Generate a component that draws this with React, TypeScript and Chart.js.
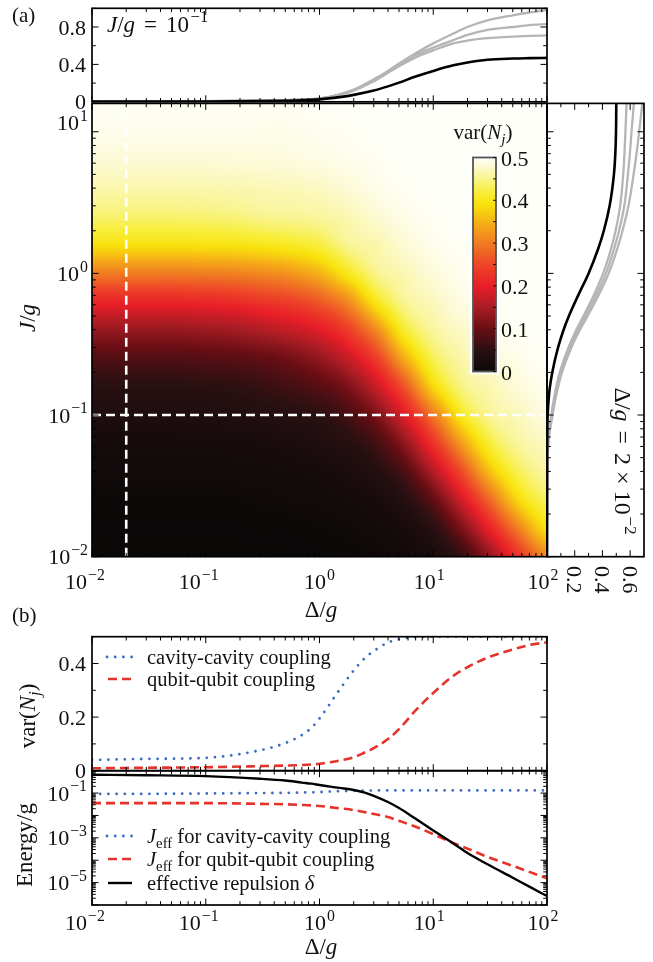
import React, { useEffect, useRef } from 'react';
import { Chart, registerables } from 'chart.js';

Chart.register(...registerables);

const W = 653;
const H = 962;
const SERIF = '"Liberation Serif", "Times New Roman", serif';
const INK = '#111';

// ---------------- data: (a) top, var vs Δ/g at J/g = 0.1 ----------------
const A_DELTA = [0.01, 0.03, 0.1, 0.3, 0.5, 0.7, 1, 1.5, 2, 3, 4, 5, 7, 10, 15, 20, 30, 50, 70, 100];
const A_BLACK = [0.002, 0.003, 0.004, 0.008, 0.012, 0.017, 0.026, 0.05, 0.074, 0.12, 0.165, 0.205, 0.27, 0.33, 0.39, 0.42, 0.45, 0.463, 0.467, 0.47];
const A_GRAY1 = [0.003, 0.004, 0.006, 0.012, 0.017, 0.024, 0.036, 0.08, 0.13, 0.24, 0.33, 0.41, 0.52, 0.625, 0.73, 0.8, 0.87, 0.925, 0.955, 0.98];
const A_GRAY2 = [0.003, 0.004, 0.006, 0.012, 0.017, 0.024, 0.035, 0.078, 0.125, 0.23, 0.32, 0.395, 0.5, 0.58, 0.66, 0.715, 0.77, 0.8, 0.82, 0.83];
const A_GRAY3 = [0.003, 0.004, 0.006, 0.012, 0.017, 0.024, 0.034, 0.075, 0.12, 0.22, 0.31, 0.38, 0.475, 0.55, 0.625, 0.655, 0.68, 0.697, 0.705, 0.71];

// ---------------- data: (a) side, var vs J/g at Δ/g = 0.02 ----------------
const S_J = [0.01, 0.05, 0.07, 0.1, 0.15, 0.2, 0.3, 0.4, 0.5, 0.7, 1, 1.5, 2, 3, 5, 7, 10, 15.85];
const S_BLACK = [0, 0.001, 0.002, 0.005, 0.018, 0.038, 0.08, 0.12, 0.158, 0.225, 0.3, 0.37, 0.41, 0.452, 0.483, 0.493, 0.498, 0.5];
const S_GRAY1 = [0, 0.003, 0.011, 0.031, 0.062, 0.092, 0.155, 0.212, 0.263, 0.338, 0.405, 0.463, 0.495, 0.528, 0.55, 0.559, 0.566, 0.574];
const S_GRAY2 = [0, 0.004, 0.013, 0.035, 0.068, 0.1, 0.165, 0.225, 0.278, 0.355, 0.425, 0.485, 0.52, 0.558, 0.584, 0.598, 0.61, 0.627];
const S_GRAY3 = [0, 0.005, 0.015, 0.04, 0.075, 0.108, 0.176, 0.238, 0.293, 0.372, 0.445, 0.508, 0.545, 0.588, 0.625, 0.646, 0.665, 0.688];

// ---------------- data: (a) map, var(N_j) over (Δ/g, J/g) ----------------
const HEAT_DELTA = [0.01, 0.0178, 0.0316, 0.0562, 0.1, 0.178, 0.316, 0.562, 1, 1.78, 3.16, 5.62, 10, 17.8, 31.6, 56.2, 100];
const HEAT_J = [15.85, 10, 6.31, 3.98, 2.51, 1.585, 1, 0.631, 0.398, 0.251, 0.1585, 0.1, 0.0631, 0.0398, 0.0251, 0.01585, 0.01];
const HEAT_VAR = [
  [0.497, 0.497, 0.497, 0.497, 0.497, 0.497, 0.497, 0.497, 0.498, 0.5, 0.5, 0.5, 0.5, 0.5, 0.5, 0.5, 0.5],
  [0.492, 0.492, 0.492, 0.492, 0.492, 0.492, 0.491, 0.491, 0.494, 0.496, 0.5, 0.5, 0.5, 0.5, 0.5, 0.5, 0.5],
  [0.481, 0.481, 0.481, 0.481, 0.481, 0.482, 0.483, 0.485, 0.488, 0.492, 0.495, 0.5, 0.5, 0.5, 0.5, 0.5, 0.5],
  [0.463, 0.463, 0.463, 0.463, 0.464, 0.465, 0.467, 0.469, 0.473, 0.481, 0.491, 0.496, 0.5, 0.5, 0.5, 0.5, 0.5],
  [0.438, 0.438, 0.438, 0.438, 0.44, 0.443, 0.45, 0.453, 0.457, 0.466, 0.479, 0.491, 0.497, 0.5, 0.5, 0.5, 0.5],
  [0.39, 0.39, 0.39, 0.39, 0.391, 0.393, 0.398, 0.406, 0.42, 0.452, 0.464, 0.48, 0.492, 0.498, 0.5, 0.5, 0.5],
  [0.3, 0.3, 0.3, 0.3, 0.302, 0.305, 0.313, 0.324, 0.35, 0.401, 0.45, 0.467, 0.483, 0.494, 0.5, 0.5, 0.5],
  [0.209, 0.209, 0.209, 0.209, 0.212, 0.217, 0.229, 0.242, 0.267, 0.314, 0.4, 0.453, 0.47, 0.488, 0.495, 0.5, 0.5],
  [0.136, 0.136, 0.136, 0.136, 0.14, 0.145, 0.157, 0.172, 0.194, 0.239, 0.314, 0.413, 0.457, 0.475, 0.491, 0.497, 0.5],
  [0.082, 0.082, 0.082, 0.082, 0.085, 0.088, 0.095, 0.109, 0.133, 0.174, 0.239, 0.345, 0.429, 0.462, 0.48, 0.492, 0.498],
  [0.048, 0.048, 0.048, 0.048, 0.05, 0.052, 0.06, 0.071, 0.085, 0.115, 0.174, 0.264, 0.381, 0.446, 0.466, 0.483, 0.493],
  [0.032, 0.032, 0.032, 0.032, 0.033, 0.035, 0.039, 0.044, 0.05, 0.073, 0.115, 0.194, 0.296, 0.403, 0.453, 0.47, 0.486],
  [0.018, 0.018, 0.018, 0.018, 0.019, 0.02, 0.022, 0.027, 0.034, 0.044, 0.07, 0.131, 0.225, 0.33, 0.418, 0.457, 0.472],
  [0.012, 0.012, 0.012, 0.012, 0.012, 0.013, 0.014, 0.016, 0.019, 0.027, 0.041, 0.078, 0.157, 0.254, 0.361, 0.429, 0.458],
  [0.005, 0.005, 0.005, 0.005, 0.006, 0.006, 0.008, 0.01, 0.012, 0.016, 0.022, 0.043, 0.093, 0.183, 0.282, 0.382, 0.433],
  [0.003, 0.003, 0.003, 0.003, 0.003, 0.003, 0.004, 0.004, 0.006, 0.009, 0.014, 0.023, 0.048, 0.114, 0.207, 0.304, 0.39],
  [0.001, 0.001, 0.001, 0.001, 0.001, 0.002, 0.002, 0.002, 0.003, 0.004, 0.007, 0.014, 0.026, 0.06, 0.136, 0.23, 0.315],
];
const MARK_DELTA = 0.02;
const MARK_J = 0.1;

// ---------------- data: (b) ----------------
const B_DELTA = [0.01, 0.03, 0.1, 0.3, 0.5, 0.7, 0.85, 1, 1.2, 1.5, 2, 2.5, 3, 4, 5, 7, 10, 15, 20, 30, 50, 70, 100];
const VAR_CAVITY = [0.04, 0.044, 0.048, 0.076, 0.103, 0.133, 0.16, 0.195, 0.242, 0.302, 0.374, 0.42, 0.446, 0.478, 0.49, 0.499, 0.5, 0.5, 0.5, 0.5, 0.5, 0.5, 0.5];
const VAR_QUBIT = [0.009, 0.011, 0.013, 0.017, 0.019, 0.021, 0.023, 0.026, 0.031, 0.038, 0.05, 0.068, 0.084, 0.118, 0.155, 0.225, 0.29, 0.354, 0.386, 0.422, 0.452, 0.469, 0.479];
const JEFF_CAVITY = [0.0912, 0.0923, 0.0955, 0.1, 0.102, 0.106, 0.108, 0.111, 0.116, 0.122, 0.126, 0.129, 0.13, 0.132, 0.132, 0.132, 0.132, 0.132, 0.132, 0.132, 0.132, 0.132, 0.132];
const JEFF_QUBIT = [0.0355, 0.0355, 0.0355, 0.0331, 0.0316, 0.0295, 0.0282, 0.0263, 0.024, 0.0209, 0.0174, 0.0141, 0.0117, 0.00851, 0.00575, 0.00316, 0.00145, 5.89e-4, 3.31e-4, 1.41e-4, 5.62e-5, 3.02e-5, 1.55e-5];
const REPULSION = [0.661, 0.631, 0.575, 0.437, 0.363, 0.295, 0.263, 0.229, 0.1995, 0.17, 0.138, 0.105, 0.0759, 0.0398, 0.0214, 0.00708, 0.00214, 5.62e-4, 2.09e-4, 6.61e-5, 1.66e-5, 6.61e-6, 2.51e-6];

// ---------------- ticks ----------------
const DEC_X = [0.01, 0.1, 1, 10, 100];
const DEC_X_EXP = ['−2', '−1', '0', '1', '2'];
const DEC_X_SHIFT = [-7, -7, 0, -4, -4];
const HEAT_Y_TICKS = [0.01, 0.1, 1, 10];
const HEAT_Y_EXP = ['−2', '−1', '0', '1'];
const HEAT_Y_SHIFT = [0, 0, 0, -9];
const EN_MAJOR = [1e-6, 1e-5, 1e-4, 1e-3, 1e-2, 1e-1, 1];
const EN_LABELS = [1e-1, 1e-3, 1e-5];
const EN_LABEL_EXP = ['−1', '−3', '−5'];
const A_Y_MAJOR = [0, 0.4, 0.8];
const A_Y_LABELS = ['0', '0.4', '0.8'];
const A_Y_MINOR = [0.2, 0.6, 1.0];
const S_X_MAJOR = [0.2, 0.4, 0.6];
const S_X_LABELS = ['0.2', '0.4', '0.6'];
const S_X_MINOR = [0.1, 0.3, 0.5];
const B_Y_MAJOR = [0, 0.2, 0.4];
const B_Y_LABELS = ['0', '0.2', '0.4'];
const B_Y_MINOR = [0.1, 0.3, 0.5];
const CB_TICKS = [0, 0.1, 0.2, 0.3, 0.4, 0.5];
const CB_LABELS = ['0', '0.1', '0.2', '0.3', '0.4', '0.5'];
const CB_MINOR = [0.05, 0.15, 0.25, 0.35, 0.45];

// colormap (value -> rgb)
const CMAP_POS = [0, 0.05, 0.1, 0.15, 0.2, 0.25, 0.3, 0.35, 0.39, 0.42, 0.45, 0.48, 0.5];
const CMAP_RGB = [
  [10, 8, 8], [42, 16, 18], [105, 14, 20], [170, 28, 36], [232, 30, 40], [238, 70, 40],
  [240, 124, 34], [246, 178, 22], [248, 226, 12], [248, 238, 60], [249, 244, 140], [252, 250, 212], [255, 255, 250],
];

// ---------------- layout ----------------
type Box = { l: number; t: number; r: number; b: number };
const BOX_A: Box = { l: 92, t: 8.3, r: 547, b: 101.8 };
const BOX_HEAT: Box = { l: 92, t: 103.4, r: 547, b: 556.7 };
const BOX_SIDE: Box = { l: 547, t: 103.4, r: 644, b: 556.7 };
const BOX_BV: Box = { l: 92, t: 636.7, r: 547, b: 770.7 };
const BOX_BE: Box = { l: 92, t: 770.7, r: 547, b: 905 };
const CB = { l: 473, r: 496, top: 157.5, bot: 371.5 };

const TICK_FS = 22;
const AXIS_FS = 23;
const LEG_FS = 20.5;

type LStyle = { color: string; width: number; dash: number[]; cap: CanvasLineCap };
const ST_CAV: LStyle = { color: '#3b6bc2', width: 2.8, dash: [0, 8.2], cap: 'round' };
const ST_QUB: LStyle = { color: '#e3332a', width: 2.6, dash: [9, 5], cap: 'butt' };
const ST_BLK: LStyle = { color: '#000', width: 2.4, dash: [], cap: 'butt' };
const GRAY = '#b5b5b5';

// ---------------- text helpers ----------------
type Part = { t: string; i?: boolean; sup?: boolean; sub?: boolean; gap?: number };
const fnt = (s: number, it?: boolean) => `${it ? 'italic ' : ''}${s}px ${SERIF}`;
const SUP_SCALE = 0.72;

function partsWidth(ctx: CanvasRenderingContext2D, parts: Part[], size: number) {
  let w = 0;
  for (const p of parts) {
    ctx.font = fnt(p.sup || p.sub ? size * SUP_SCALE : size, p.i);
    w += ctx.measureText(p.t).width + (p.gap || 0);
  }
  return w;
}

function drawParts(ctx: CanvasRenderingContext2D, parts: Part[], x: number, y: number, size: number, align: 'left' | 'center' | 'right' = 'left') {
  const w = partsWidth(ctx, parts, size);
  let cx = align === 'left' ? x : align === 'center' ? x - w / 2 : x - w;
  ctx.textAlign = 'left';
  ctx.textBaseline = 'alphabetic';
  ctx.fillStyle = INK;
  for (const p of parts) {
    const s = p.sup || p.sub ? size * SUP_SCALE : size;
    ctx.font = fnt(s, p.i);
    cx += p.gap || 0;
    const dy = p.sup ? -size * 0.42 : p.sub ? size * 0.22 : 0;
    ctx.fillText(p.t, cx, y + dy);
    cx += ctx.measureText(p.t).width;
  }
}

function drawRotated(ctx: CanvasRenderingContext2D, parts: Part[], x: number, y: number, size: number, angle: number) {
  ctx.save();
  ctx.translate(x, y);
  ctx.rotate(angle);
  drawParts(ctx, parts, 0, 0, size, 'center');
  ctx.restore();
}

const pow10 = (e: string): Part[] => [{ t: '10' }, { t: e, sup: true, gap: 1 }];

function logMinor(lo: number, hi: number) {
  const out: number[] = [];
  for (let e = lo; e < hi; e++) for (let k = 2; k <= 9; k++) out.push(k * Math.pow(10, e));
  return out;
}

function legendSample(ctx: CanvasRenderingContext2D, x0: number, x1: number, y: number, st: LStyle) {
  ctx.save();
  ctx.strokeStyle = st.color;
  ctx.lineWidth = st.width;
  ctx.setLineDash(st.dash);
  ctx.lineCap = st.cap;
  ctx.beginPath();
  ctx.moveTo(x0, y);
  ctx.lineTo(x1, y);
  ctx.stroke();
  ctx.restore();
}

type Ticks = { major: number[]; minor: number[] };
type Sides = { t?: boolean; b?: boolean; l?: boolean; r?: boolean };

function drawAxesFrame(chart: any, xt: Ticks | null, yt: Ticks | null, xs: Sides, ys: Sides) {
  const { ctx, chartArea: a, scales } = chart;
  const X = scales.x;
  const Y = scales.y;
  ctx.save();
  ctx.strokeStyle = '#000';
  ctx.lineWidth = 1;
  ctx.setLineDash([]);
  const seg = (x1: number, y1: number, x2: number, y2: number) => {
    ctx.beginPath();
    ctx.moveTo(x1, y1);
    ctx.lineTo(x2, y2);
    ctx.stroke();
  };
  const inRange = (S: any, v: number) => v >= S.min * 0.999999 - 1e-9 && v <= S.max * 1.000001 + 1e-9;
  if (xt) {
    const sets: [number[], number][] = [[xt.major, 6.5], [xt.minor, 3.8]];
    for (const [vals, len] of sets) {
      for (const v of vals) {
        if (!inRange(X, v)) continue;
        const p = X.getPixelForValue(v);
        if (xs.b) seg(p, a.bottom, p, a.bottom - len);
        if (xs.t) seg(p, a.top, p, a.top + len);
      }
    }
  }
  if (yt) {
    const sets: [number[], number][] = [[yt.major, 6.5], [yt.minor, 3.8]];
    for (const [vals, len] of sets) {
      for (const v of vals) {
        if (!inRange(Y, v)) continue;
        const p = Y.getPixelForValue(v);
        if (ys.l) seg(a.left, p, a.left + len, p);
        if (ys.r) seg(a.right, p, a.right - len, p);
      }
    }
  }
  ctx.lineWidth = 1.7;
  ctx.strokeRect(a.left, a.top, a.right - a.left, a.bottom - a.top);
  ctx.restore();
}

// ---------------- chart helpers ----------------
function baseOptions(box: Box, xScale: any, yScale: any, extra: any = {}) {
  return {
    responsive: false,
    maintainAspectRatio: false,
    animation: false,
    devicePixelRatio: 1,
    events: [],
    layout: { padding: { left: box.l, top: box.t, right: W - box.r, bottom: H - box.b } },
    plugins: { legend: { display: false }, tooltip: { enabled: false }, title: { display: false } },
    elements: { point: { radius: 0 } },
    scales: {
      x: { ...xScale, display: false, bounds: 'data', grid: { display: false }, ticks: { display: false } },
      y: { ...yScale, display: false, bounds: 'data', grid: { display: false }, ticks: { display: false } },
    },
    ...extra,
  };
}

function series(xs: number[], ys: number[], st: Partial<LStyle> & { color: string; width: number }, extra: any = {}) {
  return {
    data: xs.map((x, i) => ({ x, y: ys[i] })),
    pointRadius: 0,
    fill: false,
    borderColor: st.color,
    borderWidth: st.width,
    borderDash: st.dash || [],
    borderCapStyle: st.cap || 'butt',
    borderJoinStyle: 'round',
    ...extra,
  };
}

const MONO = { cubicInterpolationMode: 'monotone' };
const LOG_X = { type: 'logarithmic', min: 0.01, max: 100 };
const X_TICKS: Ticks = { major: DEC_X, minor: logMinor(-2, 2) };

function buildLut(n: number) {
  const lut = new Uint8ClampedArray(n * 3);
  for (let k = 0; k < n; k++) {
    const v = (k / (n - 1)) * 0.5;
    let s = 0;
    while (s < CMAP_POS.length - 2 && v > CMAP_POS[s + 1]) s++;
    const f = Math.max(0, Math.min(1, (v - CMAP_POS[s]) / (CMAP_POS[s + 1] - CMAP_POS[s])));
    for (let c = 0; c < 3; c++) lut[k * 3 + c] = CMAP_RGB[s][c] + (CMAP_RGB[s + 1][c] - CMAP_RGB[s][c]) * f;
  }
  return lut;
}

// ---------------- configs ----------------
function cfgTop() {
  return {
    type: 'line',
    data: {
      datasets: [
        series(A_DELTA, A_BLACK, { color: '#000', width: 2.6 }, MONO),
        series(A_DELTA, A_GRAY1, { color: GRAY, width: 2.3 }, MONO),
        series(A_DELTA, A_GRAY2, { color: GRAY, width: 2.3 }, MONO),
        series(A_DELTA, A_GRAY3, { color: GRAY, width: 2.3 }, MONO),
      ],
    },
    options: baseOptions(BOX_A, LOG_X, { type: 'linear', min: 0, max: 1 }),
    plugins: [
      {
        id: 'topAxes',
        afterDraw(chart: any) {
          const { ctx, scales } = chart;
          drawAxesFrame(chart, X_TICKS, { major: A_Y_MAJOR, minor: A_Y_MINOR }, { t: true, b: true }, { l: true, r: true });
          A_Y_MAJOR.forEach((v, i) => {
            drawParts(ctx, [{ t: A_Y_LABELS[i] }], 86, scales.y.getPixelForValue(v) + 7.5, TICK_FS, 'right');
          });
          drawParts(
            ctx,
            [{ t: 'J', i: true }, { t: '/' }, { t: 'g', i: true }, { t: '=', gap: 9 }, { t: '10', gap: 9 }, { t: '−1', sup: true, gap: 1.5 }],
            107,
            32,
            23,
            'left',
          );
          drawParts(ctx, [{ t: '(a)' }], 12, 22, 21, 'left');
        },
      },
    ],
  };
}

function cfgHeat() {
  return {
    type: 'line',
    data: {
      datasets: [
        series([MARK_DELTA, MARK_DELTA], [0.01, 15.85], { color: '#ffffff', width: 2.6, dash: [9, 5] }),
        series([0.01, 100], [MARK_J, MARK_J], { color: '#ffffff', width: 2.6, dash: [9, 5] }),
      ],
    },
    options: baseOptions(BOX_HEAT, LOG_X, { type: 'logarithmic', min: 0.01, max: 15.85 }),
    plugins: [
      {
        id: 'heatCells',
        beforeDatasetsDraw(chart: any) {
          const { ctx, chartArea: a, scales } = chart;
          const X = scales.x;
          const Y = scales.y;
          const cx = HEAT_DELTA.map((d) => X.getPixelForValue(d));
          const cy = HEAT_J.map((j) => Y.getPixelForValue(j));
          const x0 = Math.round(a.left);
          const y0 = Math.round(a.top);
          const w = Math.round(a.right) - x0;
          const h = Math.round(a.bottom) - y0;
          const off = document.createElement('canvas');
          off.width = w;
          off.height = h;
          const octx = off.getContext('2d')!;
          const img = octx.createImageData(w, h);
          const N = 1024;
          const lut = buildLut(N);
          const nr = HEAT_J.length;
          const nc = HEAT_DELTA.length;
          const locate = (arr: number[], p: number): [number, number] => {
            let i = 0;
            while (i < arr.length - 2 && p > arr[i + 1]) i++;
            const f = Math.max(0, Math.min(1, (p - arr[i]) / (arr[i + 1] - arr[i])));
            return [i, f];
          };
          const cl = (i: number, n: number) => (i < 0 ? 0 : i > n - 1 ? n - 1 : i);
          // Catmull-Rom shading between the read grid values
          const cr = (p0: number, p1: number, p2: number, p3: number, t: number) =>
            0.5 * (2 * p1 + (-p0 + p2) * t + (2 * p0 - 5 * p1 + 4 * p2 - p3) * t * t + (-p0 + 3 * p1 - 3 * p2 + p3) * t * t * t);
          const cols: [number, number][] = [];
          for (let px = 0; px < w; px++) cols.push(locate(cx, x0 + px + 0.5));
          const tmp = [0, 0, 0, 0];
          for (let py = 0; py < h; py++) {
            const [r, fy] = locate(cy, y0 + py + 0.5);
            const rows = [HEAT_VAR[cl(r - 1, nr)], HEAT_VAR[r], HEAT_VAR[cl(r + 1, nr)], HEAT_VAR[cl(r + 2, nr)]];
            for (let px = 0; px < w; px++) {
              const [c, fx] = cols[px];
              const c0 = cl(c - 1, nc);
              const c2 = cl(c + 1, nc);
              const c3 = cl(c + 2, nc);
              for (let k = 0; k < 4; k++) {
                const row = rows[k];
                tmp[k] = cr(row[c0], row[c], row[c2], row[c3], fx);
              }
              let v = cr(tmp[0], tmp[1], tmp[2], tmp[3], fy);
              v = Math.max(0, Math.min(0.5, v));
              const k = Math.round((v / 0.5) * (N - 1));
              const o = (py * w + px) * 4;
              img.data[o] = lut[k * 3];
              img.data[o + 1] = lut[k * 3 + 1];
              img.data[o + 2] = lut[k * 3 + 2];
              img.data[o + 3] = 255;
            }
          }
          octx.putImageData(img, 0, 0);
          ctx.drawImage(off, x0, y0);
        },
        afterDatasetsDraw(chart: any) {
          const { ctx } = chart;
          const yFor = (v: number) => CB.bot - (v / 0.5) * (CB.bot - CB.top);
          ctx.save();
          const g = ctx.createLinearGradient(0, CB.bot, 0, CB.top);
          CMAP_POS.forEach((p, i) => g.addColorStop(p / 0.5, `rgb(${CMAP_RGB[i].join(',')})`));
          ctx.strokeStyle = 'rgba(255,255,255,0.9)';
          ctx.lineWidth = 4;
          ctx.strokeRect(CB.l - 1, CB.top - 1, CB.r - CB.l + 2, CB.bot - CB.top + 2);
          ctx.fillStyle = g;
          ctx.fillRect(CB.l, CB.top, CB.r - CB.l, CB.bot - CB.top);
          ctx.strokeStyle = '#555';
          ctx.lineWidth = 1.8;
          ctx.strokeRect(CB.l, CB.top, CB.r - CB.l, CB.bot - CB.top);
          ctx.strokeStyle = '#111';
          ctx.lineWidth = 1;
          [...CB_TICKS, ...CB_MINOR].forEach((v) => {
            const y = yFor(v);
            ctx.beginPath();
            ctx.moveTo(CB.r, y);
            ctx.lineTo(CB.r - 3, y);
            ctx.stroke();
          });
          ctx.restore();
          CB_TICKS.forEach((v, i) => drawParts(ctx, [{ t: CB_LABELS[i] }], 501, yFor(v) + 8, TICK_FS, 'left'));
          drawParts(ctx, [{ t: 'var(' }, { t: 'N', i: true }, { t: 'j', i: true, sub: true }, { t: ')' }], 483, 139, 21, 'center');
        },
        afterDraw(chart: any) {
          const { ctx, scales } = chart;
          drawAxesFrame(
            chart,
            X_TICKS,
            { major: [0.01, 0.1, 1, 10], minor: logMinor(-2, 2) },
            { t: true, b: true },
            { l: true },
          );
          DEC_X.forEach((v, i) => {
            drawParts(ctx, pow10(DEC_X_EXP[i]), scales.x.getPixelForValue(v) + DEC_X_SHIFT[i], 589, TICK_FS, 'center');
          });
          HEAT_Y_TICKS.forEach((v, i) => {
            drawParts(ctx, pow10(HEAT_Y_EXP[i]), 88, scales.y.getPixelForValue(v) + 7.5 + HEAT_Y_SHIFT[i], TICK_FS, 'right');
          });
          drawParts(ctx, [{ t: 'Δ' }, { t: '/' }, { t: 'g', i: true }], 321, 617, AXIS_FS, 'center');
          drawRotated(ctx, [{ t: 'J', i: true }, { t: '/' }, { t: 'g', i: true }], 35, 318, AXIS_FS, -Math.PI / 2);
        },
      },
    ],
  };
}

function cfgSide() {
  return {
    type: 'line',
    data: {
      datasets: [
        series(S_BLACK, S_J, { color: '#000', width: 2.6 }, MONO),
        series(S_GRAY1, S_J, { color: GRAY, width: 2.3 }, MONO),
        series(S_GRAY2, S_J, { color: GRAY, width: 2.3 }, MONO),
        series(S_GRAY3, S_J, { color: GRAY, width: 2.3 }, MONO),
      ],
    },
    options: baseOptions(BOX_SIDE, { type: 'linear', min: 0, max: 0.7 }, { type: 'logarithmic', min: 0.01, max: 15.85 }, { indexAxis: 'y' }),
    plugins: [
      {
        id: 'sideAxes',
        afterDraw(chart: any) {
          const { ctx, scales } = chart;
          drawAxesFrame(
            chart,
            { major: S_X_MAJOR, minor: S_X_MINOR },
            { major: [0.01, 0.1, 1, 10], minor: logMinor(-2, 2) },
            { t: true, b: true },
            { l: true, r: true },
          );
          S_X_MAJOR.forEach((v, i) => {
            const x = scales.x.getPixelForValue(v);
            ctx.save();
            ctx.translate(x - 7.5, 566);
            ctx.rotate(Math.PI / 2);
            drawParts(ctx, [{ t: S_X_LABELS[i] }], 0, 0, TICK_FS, 'left');
            ctx.restore();
          });
          drawRotated(
            ctx,
            [
              { t: 'Δ' }, { t: '/' }, { t: 'g', i: true },
              { t: '=', gap: 9 }, { t: '2', gap: 9 }, { t: '×', gap: 6 }, { t: '10', gap: 6 },
              { t: '−2', sup: true, gap: 1.5 },
            ],
            615,
            461,
            24,
            Math.PI / 2,
          );
        },
      },
    ],
  };
}

function cfgBVar() {
  return {
    type: 'line',
    data: {
      datasets: [
        series(B_DELTA, VAR_CAVITY, ST_CAV, MONO),
        series(B_DELTA, VAR_QUBIT, ST_QUB, MONO),
      ],
    },
    options: baseOptions(BOX_BV, LOG_X, { type: 'linear', min: 0, max: 0.5 }),
    plugins: [
      {
        id: 'bVarAxes',
        afterDraw(chart: any) {
          const { ctx, scales } = chart;
          drawAxesFrame(chart, X_TICKS, { major: B_Y_MAJOR, minor: B_Y_MINOR }, { t: true, b: true }, { l: true, r: true });
          B_Y_MAJOR.forEach((v, i) => {
            drawParts(ctx, [{ t: B_Y_LABELS[i] }], 86, scales.y.getPixelForValue(v) + 7.5, TICK_FS, 'right');
          });
          drawRotated(ctx, [{ t: 'var(' }, { t: 'N', i: true }, { t: 'j', i: true, sub: true }, { t: ')' }], 35, 716, AXIS_FS, -Math.PI / 2);
          legendSample(ctx, 107, 132, 657, ST_CAV);
          drawParts(ctx, [{ t: 'cavity-cavity coupling' }], 147, 664, LEG_FS, 'left');
          legendSample(ctx, 108, 132, 679, ST_QUB);
          drawParts(ctx, [{ t: 'qubit-qubit coupling' }], 147, 686, LEG_FS, 'left');
          drawParts(ctx, [{ t: '(b)' }], 12, 622, 21, 'left');
        },
      },
    ],
  };
}

function cfgBEnergy() {
  return {
    type: 'line',
    data: {
      datasets: [
        series(B_DELTA, REPULSION, ST_BLK, MONO),
        series(B_DELTA, JEFF_CAVITY, ST_CAV, MONO),
        series(B_DELTA, JEFF_QUBIT, ST_QUB, MONO),
      ],
    },
    options: baseOptions(BOX_BE, LOG_X, { type: 'logarithmic', min: 1e-6, max: 1 }),
    plugins: [
      {
        id: 'bEnAxes',
        afterDraw(chart: any) {
          const { ctx, scales } = chart;
          drawAxesFrame(chart, X_TICKS, { major: EN_MAJOR, minor: logMinor(-6, 0) }, { t: true, b: true }, { l: true, r: true });
          EN_LABELS.forEach((v, i) => {
            drawParts(ctx, pow10(EN_LABEL_EXP[i]), 87, scales.y.getPixelForValue(v) + 7.5, TICK_FS, 'right');
          });
          DEC_X.forEach((v, i) => {
            drawParts(ctx, pow10(DEC_X_EXP[i]), scales.x.getPixelForValue(v) + DEC_X_SHIFT[i], 930, TICK_FS, 'center');
          });
          drawParts(ctx, [{ t: 'Δ' }, { t: '/' }, { t: 'g', i: true }], 321, 954, AXIS_FS, 'center');
          drawRotated(ctx, [{ t: 'Energy/g' }], 32, 845, AXIS_FS, -Math.PI / 2);
          legendSample(ctx, 107, 132, 836, ST_CAV);
          drawParts(ctx, [{ t: 'J', i: true }, { t: 'eff', sub: true }, { t: ' for cavity-cavity coupling' }], 147, 843, LEG_FS, 'left');
          legendSample(ctx, 108, 132, 859, ST_QUB);
          drawParts(ctx, [{ t: 'J', i: true }, { t: 'eff', sub: true }, { t: ' for qubit-qubit coupling' }], 147, 866, LEG_FS, 'left');
          legendSample(ctx, 108, 132, 883, ST_BLK);
          drawParts(ctx, [{ t: 'effective repulsion ' }, { t: 'δ', i: true }], 147, 890, LEG_FS, 'left');
        },
      },
    ],
  };
}

export default function App() {
  const r0 = useRef<HTMLCanvasElement>(null);
  const r1 = useRef<HTMLCanvasElement>(null);
  const r2 = useRef<HTMLCanvasElement>(null);
  const r3 = useRef<HTMLCanvasElement>(null);
  const r4 = useRef<HTMLCanvasElement>(null);
  const refs = [r0, r1, r2, r3, r4];

  useEffect(() => {
    const cfgs = [cfgHeat(), cfgTop(), cfgSide(), cfgBVar(), cfgBEnergy()];
    const charts = cfgs.map((c, i) => new Chart(refs[i].current as HTMLCanvasElement, c as any));
    return () => charts.forEach((c) => c.destroy());
  }, []);

  return (
    <div style={{ position: 'absolute', left: 0, top: 0, width: W, height: H, background: '#ffffff', overflow: 'hidden' }}>
      {refs.map((r, i) => (
        <canvas key={i} ref={r} width={W} height={H} style={{ position: 'absolute', left: 0, top: 0, width: W, height: H }} />
      ))}
    </div>
  );
}
